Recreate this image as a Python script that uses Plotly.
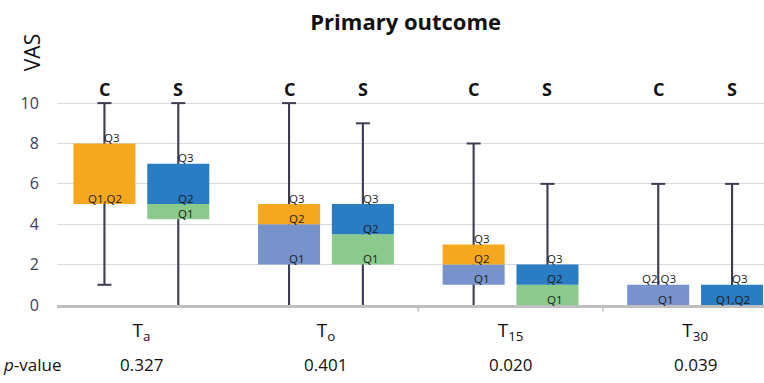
import plotly.graph_objects as go

# ---- data ----
categories = ["T<sub>a</sub>", "T<sub>o</sub>", "T<sub>15</sub>", "T<sub>30</sub>"]
p_values = ["0.327", "0.401", "0.020", "0.039"]

C_min = [1, 0, 0, 0]
C_q1 = [5, 2, 1, 0]
C_q2 = [5, 4, 2, 1]
C_q3 = [8, 5, 3, 1]
C_max = [10, 10, 8, 6]

S_min = [0, 0, 0, 0]
S_q1 = [4.25, 2, 0, 0]
S_q2 = [5, 3.5, 1, 0]
S_q3 = [7, 5, 2, 1]
S_max = [10, 9, 6, 6]

groups = [
    dict(name="C", off=-0.2, mn=C_min, q1=C_q1, q2=C_q2, q3=C_q3, mx=C_max,
         low="#7893cb", high="#f5a81e"),
    dict(name="S", off=0.2, mn=S_min, q1=S_q1, q2=S_q2, q3=S_q3, mx=S_max,
         low="#8cc98c", high="#2a7dc2"),
]

FONT = "Open Sans"
WHISK = "#3d3d52"
BW = 0.336

fig = go.Figure()
idx = list(range(len(categories)))

# whiskers (thin bars so that the boxes are drawn over them)
for g in groups:
    x = [i + g["off"] for i in idx]
    fig.add_trace(go.Bar(x=x, base=g["mn"],
                         y=[b - a for a, b in zip(g["mn"], g["mx"])],
                         width=0.0115, marker=dict(color=WHISK, line=dict(width=0)),
                         showlegend=False, hoverinfo="skip"))

# boxes
for g in groups:
    x = [i + g["off"] for i in idx]
    fig.add_trace(go.Bar(x=x, base=g["q1"],
                         y=[b - a for a, b in zip(g["q1"], g["q2"])],
                         width=BW, marker=dict(color=g["low"], line=dict(width=0)),
                         showlegend=False, hoverinfo="skip"))
    fig.add_trace(go.Bar(x=x, base=g["q2"],
                         y=[b - a for a, b in zip(g["q2"], g["q3"])],
                         width=BW, marker=dict(color=g["high"], line=dict(width=0)),
                         showlegend=False, hoverinfo="skip"))

# whisker caps (a cap at 0 is hidden by the axis line)
for g in groups:
    cx, cy = [], []
    for i in idx:
        for v in (g["mn"][i], g["mx"][i]):
            if v > 0:
                cx.append(i + g["off"])
                cy.append(v)
    fig.add_trace(go.Scatter(x=cx, y=cy, mode="markers",
                             marker=dict(symbol="line-ew", size=10,
                                         line=dict(color=WHISK, width=2)),
                             hoverinfo="skip", showlegend=False))

annotations = []
# quartile labels
for g in groups:
    for i in idx:
        vals = {"Q1": g["q1"][i], "Q2": g["q2"][i], "Q3": g["q3"][i]}
        merged = {}
        for k, v in vals.items():
            merged.setdefault(v, []).append(k)
        for v, ks in merged.items():
            txt = ",".join(ks)
            annotations.append(dict(
                x=i + g["off"], y=v, xref="x", yref="y", text=txt,
                showarrow=False, yanchor="middle", yshift=6, borderpad=0,
                xshift=1 if "," in txt else 8,
                font=dict(family=FONT, size=11.5, color="#1a1a1a")))
    # group letters
    for i in idx:
        annotations.append(dict(
            x=i + g["off"], y=10, xref="x", yref="y", text="<b>%s</b>" % g["name"],
            showarrow=False, yanchor="bottom", yshift=0,
            font=dict(family=FONT, size=18, color="#111111")))

# p-values row
annotations.append(dict(x=-0.035, y=-0.28, xref="paper", yref="paper",
                        text="<i>p</i>-value", showarrow=False,
                        xanchor="center", yanchor="middle",
                        font=dict(family=FONT, size=17, color="#111111")))
for i in idx:
    annotations.append(dict(x=i, y=-0.28, xref="x", yref="paper",
                            text=p_values[i], showarrow=False,
                            xanchor="center", yanchor="middle",
                            font=dict(family=FONT, size=17, color="#111111")))

# VAS axis title
annotations.append(dict(x=-0.035, y=1.178, xref="paper", yref="paper",
                        text="VAS", textangle=-90, showarrow=False,
                        xanchor="center", yanchor="middle",
                        font=dict(family=FONT, size=21, color="#111111")))

shapes = []
for b in [1.5, 2.5]:
    shapes.append(dict(type="line", xref="x", yref="paper", x0=b, x1=b,
                       y0=0, y1=-0.03, line=dict(color="#bfbfbf", width=1.5)))

fig.update_layout(
    width=764, height=383,
    margin=dict(l=57, r=0, t=91, b=78),
    paper_bgcolor="white", plot_bgcolor="white",
    barmode="overlay",
    title=dict(text="<b>Primary outcome</b>", x=0.531, xref="container",
               y=0.943, yref="container", xanchor="center", yanchor="middle",
               font=dict(family=FONT, size=22, color="#111111")),
    xaxis=dict(range=[-0.457, 3.373], tickvals=idx, ticktext=categories,
               showgrid=False, zeroline=False, showline=True,
               linecolor="#bfbfbf", linewidth=3,
               ticks="outside", ticklen=6, tickcolor="rgba(0,0,0,0)",
               tickfont=dict(family=FONT, size=19, color="#111111")),
    yaxis=dict(range=[0, 10.6], tickvals=[0, 2, 4, 6, 8, 10],
               showgrid=True, gridcolor="#d9d9e2", gridwidth=1,
               zeroline=False, showline=False,
               ticks="outside", ticklen=14, tickcolor="rgba(0,0,0,0)",
               tickfont=dict(family=FONT, size=16, color="#404055")),
    annotations=annotations, shapes=shapes,
    showlegend=False,
)

fig.write_html("out.html", config={"displayModeBar": False},
               post_script="document.body.style.margin='0';document.body.style.overflow='hidden';")
